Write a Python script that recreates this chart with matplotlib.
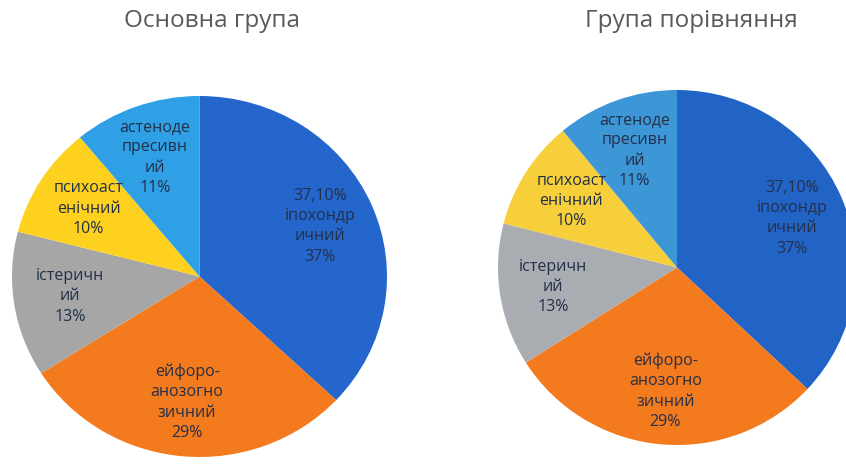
import matplotlib
matplotlib.use('Agg')
import matplotlib.pyplot as plt

# Дані
categories = ['іпохондричний', 'ейфоро-анозогнозичний', 'істеричний',
              'психоастенічний', 'астенодепресивний']
main_group = [37, 29, 13, 10, 11]
compare_group = [37, 29, 13, 10, 11]
slice_labels = ['37,10%\nіпохондр\nичний\n37%',
                'ейфоро-\nанозогно\nзичний\n29%',
                'істеричн\nий\n13%',
                'психоаст\nенічний\n10%',
                'астеноде\nпресивн\nий\n11%']
titles = ['Основна група', 'Група порівняння']

colors_left = ['#2466cc', '#f47a1e', '#a6a6a6', '#fdd11d', '#2fa0e6']
colors_right = ['#2264c6', '#f47a1e', '#a9adb2', '#f7cf3a', '#3d96d6']

plt.rcParams['font.family'] = ['Open Sans', 'DejaVu Sans']

W, H = 846, 465
fig = plt.figure(figsize=(W / 100, H / 100), dpi=100)

# рамки кругів у пікселях: ліво, верх, право, низ
boxes = [(12, 96, 387, 457), (498, 90, 856, 445)]
groups = [(main_group, colors_left), (compare_group, colors_right)]

for (x0, y0, x1, y1), (values, cols) in zip(boxes, groups):
    ax = fig.add_axes([x0 / W, (H - y1) / H, (x1 - x0) / W, (y1 - y0) / H])
    wedges, texts = ax.pie(values, colors=cols, startangle=90, counterclock=False,
                           radius=1, labels=slice_labels, labeldistance=0.7,
                           wedgeprops=dict(linewidth=0),
                           textprops=dict(fontsize=11.5, color='#22304a',
                                          ha='center', va='center',
                                          linespacing=1.36))
    for t in texts:
        t.set_horizontalalignment('center')
    ax.set_aspect('auto')
    ax.set_xlim(-1, 1)
    ax.set_ylim(-1, 1)
    ax.axis('off')

fig.text(212 / W, (H - 27) / H, titles[0], ha='center', va='baseline',
         fontsize=17.5, color='#595959')
fig.text(691 / W, (H - 27) / H, titles[1], ha='center', va='baseline',
         fontsize=17.5, color='#595959')

fig.savefig('out.png', dpi=100)
